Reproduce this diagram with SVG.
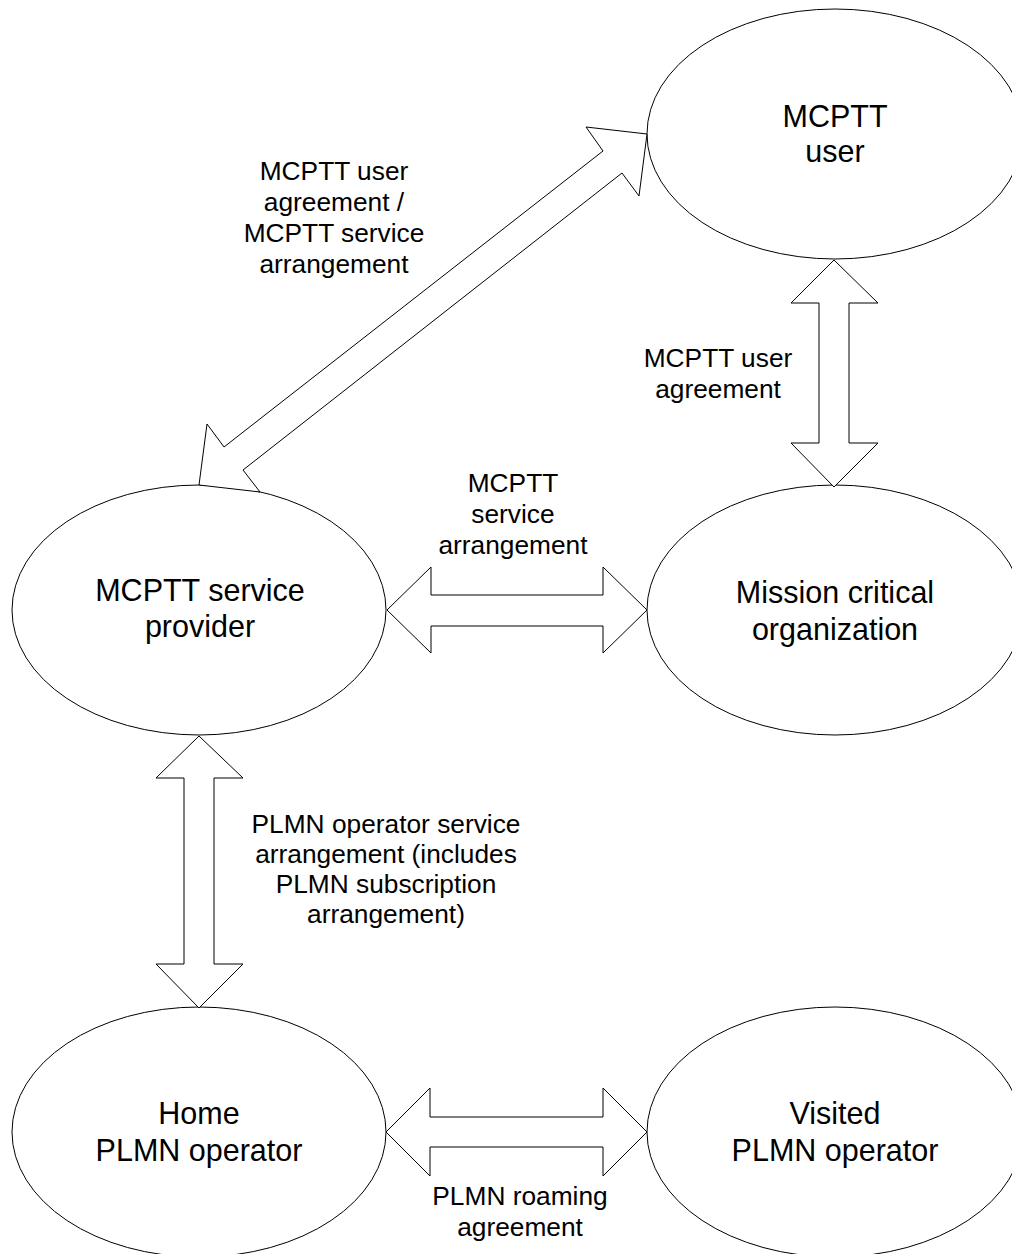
<svg xmlns="http://www.w3.org/2000/svg" width="1012" height="1254" viewBox="0 0 1012 1254">
<style>
.node ellipse{fill:#fff;stroke:#000;stroke-width:1}
.node text{font-family:"Liberation Sans",Arial,sans-serif;font-size:30.5px;text-anchor:middle;fill:#000}
.conn polygon{fill:#fff;stroke:#000;stroke-width:1;stroke-linejoin:miter}
.lbl{font-family:"Liberation Sans",Arial,sans-serif;font-size:26.3px;text-anchor:middle;fill:#000}
</style>
<rect width="1012" height="1254" fill="#fff"/>
<g id="n-user" class="node">
<ellipse cx="835" cy="134" rx="188" ry="125"/>
<text x="835" y="127">MCPTT</text>
<text x="835" y="162">user</text>
</g>
<g id="n-provider" class="node">
<ellipse cx="199" cy="610" rx="187" ry="125"/>
<text x="200" y="601">MCPTT service</text>
<text x="200" y="637">provider</text>
</g>
<g id="n-org" class="node">
<ellipse cx="835" cy="610" rx="188" ry="125"/>
<text x="835" y="603">Mission critical</text>
<text x="835" y="640">organization</text>
</g>
<g id="n-home" class="node">
<ellipse cx="199" cy="1132" rx="187" ry="125"/>
<text x="199" y="1124">Home</text>
<text x="199" y="1161">PLMN operator</text>
</g>
<g id="n-visited" class="node">
<ellipse cx="835" cy="1132" rx="188" ry="125"/>
<text x="835" y="1124">Visited</text>
<text x="835" y="1161">PLMN operator</text>
</g>
<g id="connectors" class="conn">
<polygon points="647,134 639,196 622,173 243,470 260,492 199,485 207,424 224,447 603,151 586,127"/>
<polygon points="834,260 878,303 849,303 849,443 878,443 834,487 791,443 819,443 819,303 791,303"/>
<polygon points="387,610 431,567 431,595 603,595 603,567 647,610 603,653 603,626 431,626 431,653"/>
<polygon points="199,736 243,778 214,778 214,964 243,964 199,1008 156,964 184,964 184,778 156,778"/>
<polygon points="386,1132 430,1088 430,1117 603,1117 603,1088 647,1132 603,1176 603,1147 430,1147 430,1176"/>
</g>
<g id="labels">
<text class="lbl" x="334" y="180">MCPTT user</text>
<text class="lbl" x="334" y="211">agreement /</text>
<text class="lbl" x="334" y="242">MCPTT service</text>
<text class="lbl" x="334" y="273">arrangement</text>
<text class="lbl" x="718" y="367">MCPTT user</text>
<text class="lbl" x="718" y="398">agreement</text>
<text class="lbl" x="513" y="492">MCPTT</text>
<text class="lbl" x="513" y="523">service</text>
<text class="lbl" x="513" y="554">arrangement</text>
<text class="lbl" x="386" y="833">PLMN operator service</text>
<text class="lbl" x="386" y="863">arrangement (includes</text>
<text class="lbl" x="386" y="893">PLMN subscription</text>
<text class="lbl" x="386" y="923">arrangement)</text>
<text class="lbl" x="520" y="1205">PLMN roaming</text>
<text class="lbl" x="520" y="1236">agreement</text>
</g>
</svg>
